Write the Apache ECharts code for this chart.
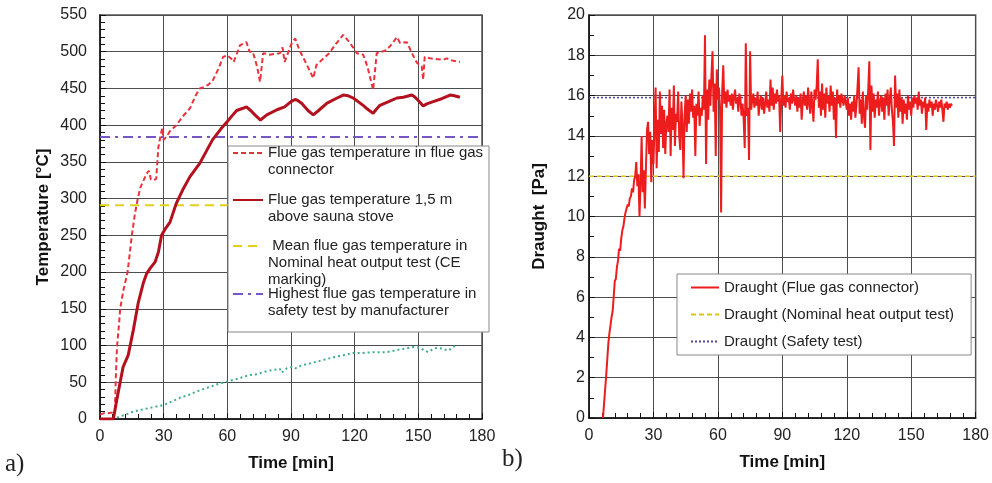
<!DOCTYPE html>
<html><head><meta charset="utf-8">
<script src="https://cdn.jsdelivr.net/npm/echarts@6/dist/echarts.min.js"></script>
<style>html,body{margin:0;padding:0;background:#fff}#c{width:992px;height:483px}</style>
</head><body><div id="c"></div><script>
// ---------- data ----------
const timeMin = 0, timeMax = 180, timeInterval = 30;
const tempMax = 550, tempInterval = 50;
const draughtMax = 20, draughtInterval = 2;

const nameConnector = 'Flue gas temperature in flue gas\nconnector';
const nameAbove = 'Flue gas temperature 1,5 m\nabove sauna stove';
const nameMean = ' Mean flue gas temperature in\nNominal heat output test (CE\nmarking)';
const nameSafety = 'Highest flue gas temperature in\nsafety test by manufacturer';
const nameGreen = 'Temperature (unlabelled)';

const tempConnector = [[0,6],[2,8],[4,8],[6,9],[7,12],[7.5,60],[8,98],[9,130],[9.5,150],[11,175],[13,200],[15,250],[16.5,280],[17.8,300],[19,315],[21,328],[22,334],[23,338],[24,326],[25,325],[26.5,327],[27.5,370],[28.5,385],[29.3,396],[30,380],[31.5,385],[33,392],[36,400],[39,412],[42.4,423],[45,440],[47,450],[49,452],[51,455],[53,460],[56,478],[58,493],[60,495],[62,490],[63,486],[66,509],[69,513],[70.5,500],[72,500],[74,480],[75.4,459],[76.9,498],[80,496],[84.8,498],[86,506],[87,486],[90.5,513],[92,518],[94,502],[97,485],[100.5,464],[102,482],[105,490],[108,498],[111,510],[114.6,523],[117.8,512],[121,498],[124,496],[126,480],[128.7,448],[130.4,498],[135,502],[138,512],[139.9,520],[141.4,512],[144.6,513],[147,498],[149.3,485],[151.6,480],[152.3,462],[153,493],[155.5,491],[158,490],[161.7,489],[163.4,491],[166,488],[169.6,486]];

const tempAbove = [[0,0],[6.3,0],[7.9,26],[9.5,50],[10.9,71],[13.3,87],[15.7,121],[18,158],[20.4,185],[22,198],[23.6,205],[26,214],[27.5,227],[29,250],[31,260],[33,268],[36,294],[39,312],[42.4,330],[47,348],[50,364],[53,380],[57,395],[60,405],[62,412],[64.4,420],[67.4,423],[69,425],[71,420],[73,414],[74.5,410],[75.6,407],[78.6,414],[83.4,421],[87,425],[90,432],[91.9,435],[93,434],[95,430],[98,420],[100.5,414],[103,420],[107,430],[111,436],[114.6,441],[117,440],[119.3,437],[124,427],[126,422],[128.7,416],[130,421],[131.9,427],[136,432],[139.9,437],[142.9,438],[147,441],[148.5,438],[150.5,432],[152.3,426],[154,429],[157,432],[161,436],[165,441],[167,440],[169.6,438]];

const tempGreen = [[8,2],[10,4],[13,7],[15.7,10],[20,13],[25,16],[30,19],[34,24],[37.7,29],[42,33],[46,38],[50,42],[55,47],[60,51],[65,55],[70.7,60],[74,61],[77,64],[80,66],[82,67],[84.8,68],[85.6,63],[88,69],[90.5,71],[92,69],[95,73],[98,75],[102,78],[106,81],[110,84],[115,87],[119.3,90],[124,90],[129,91],[135,91],[140,94],[144,96],[147.6,98],[150.8,97],[152.5,94],[154.6,91],[157,95],[158.8,97],[161,96],[164,93],[166,97],[168,101]];

const meanNominalTemp = 291;
const safetyTemp = 384;

const draughtNames = ['Draught (Flue gas connector)', 'Draught (Nominal heat output test)', 'Draught (Safety test)'];
const draughtStart = 6.5, draughtStep = 0.5;
const draughtValues = [
 0,0.7,1.4,2.1,2.9,3.7,4.2,4.6,5.0,5.3,
 6.0,6.8,6.9,7.5,7.8,8.4,8.3,8.9,9.3,9.5,
 9.9,10.2,10.4,10.6,10.5,10.9,11.0,11.4,11.2,11.8,
 12.0,12.7,11.5,12.1,10.0,11.6,14.0,11.2,12.3,10.4,
 12.4,14.3,14.7,13.1,14.2,11.7,13.8,12.6,14.5,16.4,
 12.4,14.8,13.2,16.2,14.1,15.5,13.4,15.3,13.1,14.6,
 15.0,14.2,16.3,13.0,15.4,14.3,16.5,13.5,15.1,14.7,
 16.2,14.0,13.3,15.7,14.6,11.9,15.0,16.0,14.2,15.8,
 14.6,16.1,15.2,16.3,14.9,15.5,13.0,15.6,15.0,16.2,
 14.5,15.4,15.0,16.0,15.3,19.0,12.6,16.3,14.8,16.8,
 15.5,17.0,18.2,15.2,16.6,13.0,17.3,15.8,16.4,15.4,
 10.2,16.2,17.5,15.6,16.2,15.4,16.3,15.7,16.0,15.5,
 16.1,15.3,15.9,16.3,15.6,15.9,15.2,16.1,15.8,15.0,
 15.6,14.8,13.4,18.6,15.0,15.4,12.8,18.2,15.3,15.8,
 16.1,15.4,15.9,15.5,16.2,15.0,15.7,16.0,15.3,15.9,
 15.1,15.6,16.2,15.4,15.8,15.2,16.8,15.5,16.4,15.3,
 16.1,15.6,16.3,15.7,16.0,14.2,15.8,17.0,15.5,16.0,
 15.4,16.2,15.7,15.9,15.3,16.1,15.6,16.3,15.8,15.5,
 16.0,15.2,15.9,15.4,16.1,14.8,15.7,16.2,15.5,16.0,
 15.3,16.4,15.6,15.1,16.2,15.5,14.7,16.3,15.8,16.5,
 17.8,15.4,16.2,15.0,16.6,15.3,16.1,14.9,16.4,15.6,
 16.0,15.2,16.5,15.5,16.2,14.8,15.9,13.9,16.3,15.6,
 16.0,15.4,16.1,15.8,15.5,16.0,15.7,15.3,15.9,15.0,
 15.6,14.8,15.7,15.2,16.0,14.9,15.5,16.4,17.4,15.1,
 15.8,14.6,16.2,15.0,14.4,16.0,15.3,16.3,17.7,13.3,
 16.5,15.2,16.1,14.9,15.8,15.4,16.2,15.0,15.7,16.0,
 15.2,15.9,14.8,16.1,15.5,16.3,15.0,15.8,16.4,15.3,
 14.7,13.5,17.0,15.4,16.1,14.9,16.3,15.2,15.9,14.6,
 15.8,15.1,15.6,14.8,16.0,15.3,15.7,15.0,15.9,15.4,
 16.0,15.6,15.9,15.3,16.2,15.5,15.8,15.1,15.7,15.4,
 15.9,14.3,15.6,15.2,15.8,15.4,15.7,15.0,15.6,15.3,
 15.8,15.5,15.2,15.7,15.4,15.8,15.3,14.7,15.6,15.4,
 15.7,15.3,15.6,15.4,15.6,15.5
];
const draughtNominal = 12;
const draughtSafety = 15.9;

// ---------- chart ----------
const FONT = '"Liberation Sans", Arial, sans-serif';
const draughtData = draughtValues.map((v, i) => [draughtStart + i * draughtStep, v]);
const hline = (v) => [[timeMin, v], [timeMax, v]];

function xAxis(gi) {
  return {
    type: 'value', gridIndex: gi, min: timeMin, max: timeMax, interval: timeInterval,
    axisLine: { show: true, onZero: false, lineStyle: { color: '#111', width: 1.5 } },
    axisTick: { show: true, inside: true, length: 6, lineStyle: { color: '#111' } },
    minorTick: { show: true, splitNumber: 5, length: 5, lineStyle: { color: '#111' } },
    splitLine: { show: true, lineStyle: { color: '#4d4d4d', width: 1 } },
    axisLabel: { fontSize: 16, color: '#222', margin: 10, fontFamily: FONT },
    name: 'Time [min]', nameLocation: 'middle', nameGap: 36,
    nameTextStyle: { fontWeight: 'bold', fontSize: 17, color: '#111', fontFamily: FONT }
  };
}
function yAxis(gi, max, interval, minorSplit, name, margin, gap) {
  return {
    type: 'value', gridIndex: gi, min: 0, max: max, interval: interval,
    axisLine: { show: true, lineStyle: { color: '#111', width: 1.5 } },
    axisTick: { show: true, inside: true, length: 6, lineStyle: { color: '#111' } },
    minorTick: { show: true, splitNumber: minorSplit, length: 5, lineStyle: { color: '#111' } },
    splitLine: { show: true, lineStyle: { color: '#4d4d4d', width: 1 } },
    axisLabel: { fontSize: 16, color: '#222', margin: margin, fontFamily: FONT },
    name: name, nameLocation: 'middle', nameGap: gap,
    nameTextStyle: { fontWeight: 'bold', fontSize: 17, color: '#111', fontFamily: FONT }
  };
}
// multi-line legend entry whose icon lines up with the first text line
function leftLegend(name, lines, firstLineY) {
  const lh = 17;
  const pad = ' \n'.repeat(lines - 1);
  return {
    data: [name], left: 232, top: firstLineY - (2 * lines - 1) * lh / 2, padding: 0, orient: 'vertical',
    itemWidth: 30, itemHeight: 14, selectedMode: false, z: 10,
    formatter: (n) => pad + n,
    itemStyle: { opacity: 0 },
    textStyle: { fontSize: 15, color: '#222', fontFamily: FONT, lineHeight: lh }
  };
}

const chart = echarts.init(document.getElementById('c'), null, { renderer: 'canvas' });
chart.setOption({
  backgroundColor: '#fff',
  animation: false,
  grid: [
    { left: 100, top: 15, width: 382, height: 404, show: true, borderColor: '#555', borderWidth: 1.5, backgroundColor: 'transparent' },
    { left: 589, top: 15, width: 388, height: 403, show: true, borderColor: '#555', borderWidth: 1.5, backgroundColor: 'transparent' }
  ],
  xAxis: [xAxis(0), xAxis(1)],
  yAxis: [
    yAxis(0, tempMax, tempInterval, 5, 'Temperature [°C]', 13, 48),
    yAxis(1, draughtMax, draughtInterval, 2, 'Draught  [Pa]', 4, 41)
  ],
  legend: [
    leftLegend(nameConnector, 2, 153),
    leftLegend(nameAbove, 2, 200),
    leftLegend(nameMean, 3, 246),
    leftLegend(nameSafety, 2, 294),
    {
      data: draughtNames, orient: 'vertical', left: 677, top: 274,
      padding: [6, 17, 6, 13], itemWidth: 28, itemHeight: 14, itemGap: 12,
      backgroundColor: '#fff', borderColor: '#888', borderWidth: 1, selectedMode: false, z: 10,
      itemStyle: { opacity: 0 },
      textStyle: { fontSize: 15, color: '#222', fontFamily: FONT }
    }
  ],
  graphic: [
    { type: 'rect', z: 5, shape: { x: 228, y: 146, width: 261, height: 186 }, style: { fill: '#fff', stroke: '#888', lineWidth: 1 } },
    { type: 'text', left: 5, top: 452, style: { text: 'a)', font: '25px "Liberation Serif", serif', fill: '#222' } },
    { type: 'text', left: 502, top: 447, style: { text: 'b)', font: '25px "Liberation Serif", serif', fill: '#222' } }
  ],
  series: [
    { name: nameGreen, type: 'line', xAxisIndex: 0, yAxisIndex: 0, data: tempGreen, showSymbol: false, symbol: 'none',
      lineStyle: { color: '#3fae86', width: 2, type: [2, 3] } },
    { name: nameMean, type: 'line', xAxisIndex: 0, yAxisIndex: 0, data: hline(meanNominalTemp), showSymbol: false, symbol: 'none',
      itemStyle: { color: '#e3cf1c' }, lineStyle: { color: '#e3cf1c', width: 2, type: [9, 6] } },
    { name: nameSafety, type: 'line', xAxisIndex: 0, yAxisIndex: 0, data: hline(safetyTemp), showSymbol: false, symbol: 'none',
      itemStyle: { color: '#7656c6' }, lineStyle: { color: '#7656c6', width: 2, type: [10, 5, 3, 5] } },
    { name: nameConnector, type: 'line', xAxisIndex: 0, yAxisIndex: 0, data: tempConnector, showSymbol: false, symbol: 'none',
      itemStyle: { color: '#e8333d' }, lineStyle: { color: '#e8333d', width: 2, type: [5, 3] } },
    { name: nameAbove, type: 'line', xAxisIndex: 0, yAxisIndex: 0, data: tempAbove, showSymbol: false, symbol: 'none',
      itemStyle: { color: '#b3111e' }, lineStyle: { color: '#b3111e', width: 3 } },

    { name: draughtNames[1], type: 'line', xAxisIndex: 1, yAxisIndex: 1, data: hline(draughtNominal), showSymbol: false, symbol: 'none',
      itemStyle: { color: '#e0c21a' }, lineStyle: { color: '#e0c21a', width: 1.5, type: [5, 3] } },
    { name: draughtNames[2], type: 'line', xAxisIndex: 1, yAxisIndex: 1, data: hline(draughtSafety), showSymbol: false, symbol: 'none',
      itemStyle: { color: '#4b4b9c' }, lineStyle: { color: '#4b4b9c', width: 1.5, type: [2, 2] } },
    { name: draughtNames[0], type: 'line', xAxisIndex: 1, yAxisIndex: 1, data: draughtData, showSymbol: false, symbol: 'none',
      itemStyle: { color: '#ee1d1d' }, lineStyle: { color: '#ee1d1d', width: 2 } }
  ]
});
</script></body></html>
